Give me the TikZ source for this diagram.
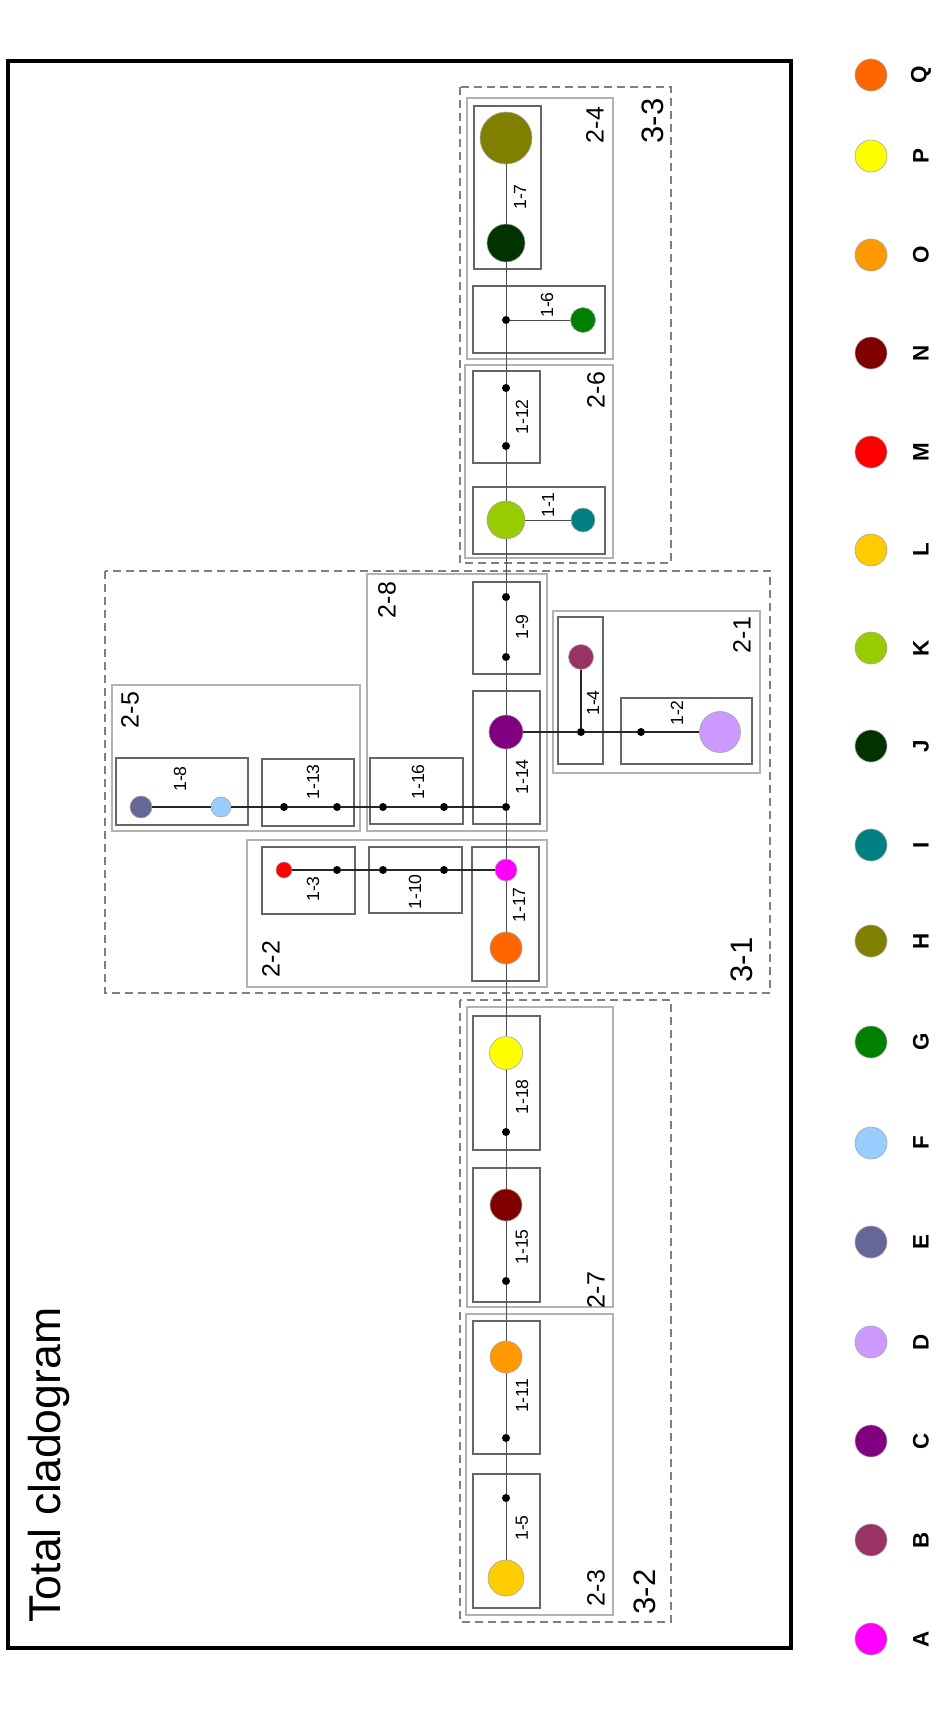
\documentclass[tikz,border=0pt]{standalone}
\usepackage{fontspec}
\setmainfont{Liberation Sans}
\usepackage{tikz}

\definecolor{cA}{HTML}{FF00FF}
\definecolor{cB}{HTML}{993366}
\definecolor{cC}{HTML}{800080}
\definecolor{cD}{HTML}{CC99FF}
\definecolor{cE}{HTML}{666699}
\definecolor{cF}{HTML}{99CCFF}
\definecolor{cG}{HTML}{008000}
\definecolor{cH}{HTML}{808000}
\definecolor{cI}{HTML}{008080}
\definecolor{cJ}{HTML}{003300}
\definecolor{cK}{HTML}{99CC00}
\definecolor{cL}{HTML}{FFCC00}
\definecolor{cM}{HTML}{FF0000}
\definecolor{cN}{HTML}{800000}
\definecolor{cO}{HTML}{FF9900}
\definecolor{cP}{HTML}{FFFF00}
\definecolor{cQ}{HTML}{FF6600}

\begin{document}
\begin{tikzpicture}[
    x=0.5pt, y=-0.5pt,
    taxon/.style={circle, draw=black!35, line width=0.3pt, inner sep=0pt, minimum size=#1pt},
    knot/.style={circle, fill=black, inner sep=0pt, minimum size=4pt},
    stem/.style={draw=black!70, line width=0.5pt},
    twig/.style={draw=black!85, line width=0.7pt},
    lvone/.style={draw=black!60, line width=0.6pt},
    lvtwo/.style={draw=black!30, line width=0.7pt},
    lvthree/.style={draw=black!50, line width=0.6pt, dash pattern=on 4pt off 2.5pt},
    tagone/.style={rotate=90, inner sep=0pt, font=\fontsize{8.8}{10}\selectfont},
    tagtwo/.style={rotate=90, inner sep=0pt, font=\fontsize{12.5}{14}\selectfont},
    tagthree/.style={rotate=90, inner sep=0pt, font=\fontsize{15.5}{18}\selectfont}
  ]
  \fill[white] (0,0) rectangle (949,1719);
  \useasboundingbox (0,0) rectangle (949,1719);

  \draw[line width=1.6pt] (8,61) rectangle (791,1648);
  \node[rotate=90, anchor=base, font=\fontsize{22.3}{26}\selectfont] (title) at (60,1465) {Total cladogram};

  % level 3
  \draw[lvthree] (460,87) rectangle (671,563);
  \draw[lvthree] (105,571) rectangle (770,993);
  \draw[lvthree] (460,1000) rectangle (671,1622);
  % level 2
  \draw[lvtwo] (467,98) rectangle (613,359);
  \draw[lvtwo] (465,365) rectangle (613,558);
  \draw[lvtwo] (367,574) rectangle (547,831);
  \draw[lvtwo] (553,611) rectangle (760,773);
  \draw[lvtwo] (112,685) rectangle (360,831);
  \draw[lvtwo] (247,840) rectangle (547,987);
  \draw[lvtwo] (467,1007) rectangle (613,1307);
  \draw[lvtwo] (466,1314) rectangle (613,1615);
  % level 1
  \draw[lvone] (474,106) rectangle (541,269);
  \draw[lvone] (473,286) rectangle (605,353);
  \draw[lvone] (473,371) rectangle (540,463);
  \draw[lvone] (473,487) rectangle (605,554);
  \draw[lvone] (473,582) rectangle (540,674);
  \draw[lvone] (473,691) rectangle (540,824);
  \draw[lvone] (558,617) rectangle (603,764);
  \draw[lvone] (621,698) rectangle (752,764);
  \draw[lvone] (116,758) rectangle (248,825);
  \draw[lvone] (262,759) rectangle (354,826);
  \draw[lvone] (370,758) rectangle (463,824);
  \draw[lvone] (262,847) rectangle (355,914);
  \draw[lvone] (369,847) rectangle (462,913);
  \draw[lvone] (472,847) rectangle (539,981);
  \draw[lvone] (473,1016) rectangle (540,1150);
  \draw[lvone] (473,1168) rectangle (540,1302);
  \draw[lvone] (473,1321) rectangle (540,1454);
  \draw[lvone] (473,1474) rectangle (540,1608);

  \node[tagthree] (g33) at (653,121) {3-3};
  \node[tagthree] (g31) at (742,960) {3-1};
  \node[tagthree] (g32) at (645,1592) {3-2};

  \node[tagtwo] (g24) at (595,125) {2-4};
  \node[tagtwo] (g26) at (596,390) {2-6};
  \node[tagtwo] (g28) at (387,600) {2-8};
  \node[tagtwo] (g21) at (742,635) {2-1};
  \node[tagtwo] (g25) at (130,710) {2-5};
  \node[tagtwo] (g22) at (271,959) {2-2};
  \node[tagtwo] (g27) at (596,1290) {2-7};
  \node[tagtwo] (g23) at (596,1588) {2-3};

  \node[tagone] (n7) at (520,197) {1-7};
  \node[tagone] (n6) at (547,305) {1-6};
  \node[tagone] (n12) at (522,417) {1-12};
  \node[tagone] (n1) at (548,505) {1-1};
  \node[tagone] (n9) at (522,627) {1-9};
  \node[tagone] (n14) at (522,777) {1-14};
  \node[tagone] (n4) at (593,703) {1-4};
  \node[tagone] (n2) at (677,713) {1-2};
  \node[tagone] (n8) at (180,779) {1-8};
  \node[tagone] (n13) at (313,782) {1-13};
  \node[tagone] (n16) at (418,782) {1-16};
  \node[tagone] (n3) at (313,889) {1-3};
  \node[tagone] (n10) at (415,892) {1-10};
  \node[tagone] (n17) at (519,905) {1-17};
  \node[tagone] (n18) at (522,1097) {1-18};
  \node[tagone] (n15) at (522,1247) {1-15};
  \node[tagone] (n11) at (522,1396) {1-11};
  \node[tagone] (n5) at (522,1528) {1-5};

  \node[taxon=26, fill=cH] (tH) at (506,138) {};
  \node[taxon=19, fill=cJ] (tJ) at (506,243) {};
  \node[knot] (k6) at (506,320) {};
  \node[taxon=12.5, fill=cG] (tG) at (583,320) {};
  \node[knot] (k12a) at (506,388) {};
  \node[knot] (k12b) at (506,446) {};
  \node[taxon=19, fill=cK] (tK) at (506,520) {};
  \node[taxon=12, fill=cI] (tI) at (583,520) {};
  \node[knot] (k9a) at (506,597) {};
  \node[knot] (k9b) at (506,657) {};
  \node[taxon=17, fill=cC] (tC) at (506,732) {};
  \node[knot] (k4) at (581,732) {};
  \node[taxon=12.5, fill=cB] (tB) at (581,657) {};
  \node[knot] (k2) at (641,732) {};
  \node[taxon=20.5, fill=cD] (tD) at (720,732) {};
  \node[knot] (k14) at (506,807) {};
  \node[knot] (k16b) at (444,807) {};
  \node[knot] (k16a) at (383,807) {};
  \node[knot] (k13b) at (337,807) {};
  \node[knot] (k13a) at (284,807) {};
  \node[taxon=10, fill=cF] (tF) at (221,807) {};
  \node[taxon=11, fill=cE] (tE) at (141,807) {};
  \node[taxon=11, fill=cA] (tA) at (506,870) {};
  \node[knot] (k10b) at (444,870) {};
  \node[knot] (k10a) at (383,870) {};
  \node[knot] (k3) at (337,870) {};
  \node[taxon=8, fill=cM] (tM) at (284,870) {};
  \node[taxon=16, fill=cQ] (tQ) at (506,948) {};
  \node[taxon=16.5, fill=cP] (tP) at (506,1053) {};
  \node[knot] (k18) at (506,1132) {};
  \node[taxon=16, fill=cN] (tN) at (506,1205) {};
  \node[knot] (k15) at (506,1281) {};
  \node[taxon=16, fill=cO] (tO) at (506,1357) {};
  \node[knot] (k11) at (506,1438) {};
  \node[knot] (k5) at (506,1498) {};
  \node[taxon=18, fill=cL] (tL) at (506,1578) {};

  \draw[stem] (tH) -- (tJ) -- (k6) -- (k12a) -- (k12b) -- (tK) -- (k9a) -- (k9b) -- (tC)
    -- (k14) -- (tA) -- (tQ) -- (tP) -- (k18) -- (tN) -- (k15) -- (tO) -- (k11) -- (k5) -- (tL);
  \draw[stem] (k6) -- (tG);
  \draw[stem] (tK) -- (tI);
  \draw[twig] (tC) -- (k4) -- (k2) -- (tD);
  \draw[twig] (k4) -- (tB);
  \draw[twig] (k14) -- (k16b) -- (k16a) -- (k13b) -- (k13a) -- (tF) -- (tE);
  \draw[twig] (tA) -- (k10b) -- (k10a) -- (k3) -- (tM);

  \foreach \l/\y in {Q/75, P/156, O/255, N/353, M/452, L/550, K/648, J/746, I/845,
                     H/941, G/1042, F/1143, E/1242, D/1342, C/1441, B/1540, A/1639} {
    \node[taxon=16, fill=c\l] (lg\l) at (871,\y) {};
    \node[rotate=90, font=\bfseries\fontsize{11.2}{13}\selectfont] (lt\l) at (921,\y) {\l};
  }
\end{tikzpicture}
\end{document}
